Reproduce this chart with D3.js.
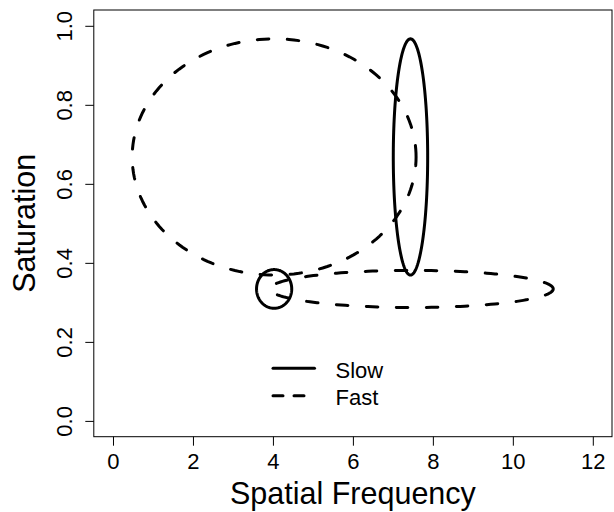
<!DOCTYPE html>
<html>
<head>
<meta charset="utf-8">
<script src="https://cdn.jsdelivr.net/npm/d3@7"></script>
<style>
  body { margin: 0; background: #fff; }
  svg { display: block; font-family: "Liberation Sans", Arial, sans-serif; }
</style>
</head>
<body>
<svg id="chart"></svg>
<script>
// ellipse data (centre and half-axes, in data units)
const groups  = ["Slow", "Slow", "Fast", "Fast"];
const centerX = [7.44, 4.03, 4.03, 7.47];
const centerY = [0.668, 0.334, 0.668, 0.334];
const radiusX = [0.43, 0.44, 3.55, 3.54];
const radiusY = [0.299, 0.049, 0.299, 0.047];

const xTicks = [0, 2, 4, 6, 8, 10, 12];
const yTicks = [0.0, 0.2, 0.4, 0.6, 0.8, 1.0];
const legendLabels = ["Slow", "Fast"];

const width = 614, height = 512;
// plot box, R style (4% padding around xlim/ylim)
const box = { left: 93.8, right: 612, top: 10, bottom: 436.7 };

const svg = d3.select("#chart").attr("width", width).attr("height", height);

const x = d3.scaleLinear().domain([-0.48, 12.48]).range([box.left, box.right]);
const y = d3.scaleLinear().domain([-0.04, 1.04]).range([box.bottom, box.top]);

const dash = { Slow: null, Fast: "11.5,18.5" };

// box
svg.append("rect")
    .attr("x", box.left).attr("y", box.top)
    .attr("width", box.right - box.left).attr("height", box.bottom - box.top)
    .attr("fill", "none").attr("stroke", "#000").attr("stroke-width", 1);

// x axis
const xAxis = svg.append("g")
    .attr("transform", `translate(0,${box.bottom})`)
    .call(d3.axisBottom(x).tickValues(xTicks).tickSize(9).tickSizeOuter(0).tickFormat(d3.format("d")));
xAxis.select(".domain").remove();
xAxis.selectAll("line").attr("stroke", "#000");
xAxis.selectAll("text")
    .attr("font-size", 22).attr("font-family", "Liberation Sans, Arial, sans-serif")
    .attr("fill", "#000").attr("dy", null).attr("y", 32);

// y axis
const yAxis = svg.append("g")
    .attr("transform", `translate(${box.left},0)`)
    .call(d3.axisLeft(y).tickValues(yTicks).tickSize(8.5).tickSizeOuter(0).tickFormat(d3.format(".1f")));
yAxis.select(".domain").remove();
yAxis.selectAll("line").attr("stroke", "#000");
yAxis.selectAll("text")
    .attr("font-size", 22).attr("font-family", "Liberation Sans, Arial, sans-serif")
    .attr("fill", "#000")
    .attr("x", null).attr("dy", null)
    .attr("text-anchor", "middle")
    .attr("transform", `translate(${72 - box.left},0) rotate(-90)`);

// axis titles
svg.append("text")
    .attr("x", (box.left + box.right) / 2).attr("y", 504)
    .attr("text-anchor", "middle").attr("font-size", 30.5)
    .text("Spatial Frequency");

svg.append("text")
    .attr("transform", `translate(35,${(box.top + box.bottom) / 2}) rotate(-90)`)
    .attr("text-anchor", "middle").attr("font-size", 30.5)
    .text("Saturation");

// ellipses
const angles = d3.range(0, 361, 2).map(a => a * Math.PI / 180);
const line = d3.line().x(p => x(p[0])).y(p => y(p[1]));

groups.forEach((g, i) => {
    const pts = angles.map(t => [
        centerX[i] + radiusX[i] * Math.cos(t),
        centerY[i] + radiusY[i] * Math.sin(t)
    ]);
    svg.append("path")
        .attr("d", line(pts))
        .attr("fill", "none")
        .attr("stroke", "#000")
        .attr("stroke-width", 3)
        .attr("stroke-linecap", "round")
        .attr("stroke-linejoin", "round")
        .attr("stroke-dasharray", dash[g]);
});

// legend
const legend = svg.append("g");
legendLabels.forEach((lab, i) => {
    const ly = 368.3 + i * 27.4;
    legend.append("line")
        .attr("x1", 273).attr("x2", 314.5)
        .attr("y1", ly).attr("y2", ly)
        .attr("stroke", "#000").attr("stroke-width", 3)
        .attr("stroke-linecap", "round")
        .attr("stroke-dasharray", lab === "Fast" ? "10,11" : null);
    legend.append("text")
        .attr("x", 335.5).attr("y", ly + 9.5)
        .attr("font-size", 22)
        .text(lab);
});
</script>
</body>
</html>
